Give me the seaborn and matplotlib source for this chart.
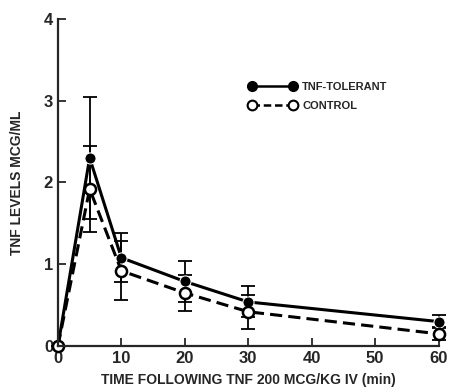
import matplotlib
matplotlib.use("Agg")
import matplotlib.pyplot as plt
import seaborn as sns
import pandas as pd
from matplotlib.lines import Line2D

# -----------------------------
# Data
# -----------------------------
time_min = [0, 5, 10, 20, 30, 60]
tolerant_mean = [0.0, 2.30, 1.08, 0.79, 0.54, 0.30]
tolerant_err = [0.0, 0.75, 0.30, 0.25, 0.19, 0.08]
control_mean = [0.0, 1.92, 0.92, 0.65, 0.42, 0.15]
control_err = [0.0, 0.53, 0.36, 0.22, 0.21, 0.08]

x_ticks = [0, 10, 20, 30, 40, 50, 60]
y_ticks = [0, 1, 2, 3, 4]

df = pd.DataFrame({
    "time": time_min * 2,
    "tnf": tolerant_mean + control_mean,
    "group": ["TNF-TOLERANT"] * len(time_min) + ["CONTROL"] * len(time_min),
})

sns.set_style("ticks")
plt.rcParams["font.family"] = ["Liberation Sans", "DejaVu Sans"]

fig = plt.figure(figsize=(4.49, 3.92), dpi=100)
ax = fig.add_axes([0.129, 0.117, 0.848, 0.835])

# error bars
ax.errorbar(time_min, tolerant_mean, yerr=tolerant_err, fmt="none",
            ecolor="black", elinewidth=1.3, capsize=5, capthick=1.3, clip_on=False)
ax.errorbar(time_min, control_mean, yerr=control_err, fmt="none",
            ecolor="black", elinewidth=1.3, capsize=5, capthick=1.3, clip_on=False)

sns.lineplot(data=df, x="time", y="tnf", hue="group", style="group",
             palette={"TNF-TOLERANT": "black", "CONTROL": "black"},
             dashes={"TNF-TOLERANT": "", "CONTROL": (4, 2)},
             markers={"TNF-TOLERANT": "o", "CONTROL": "o"},
             linewidth=2.2, markersize=8, legend=False, ax=ax)

# open markers for control
ctrl = ax.lines[-1]
ctrl.set_markerfacecolor("white")
ctrl.set_markeredgecolor("black")
ctrl.set_markeredgewidth(1.8)
for line in ax.lines:
    line.set_clip_on(False)

ax.set_xlim(0, 60)
ax.set_ylim(0, 4)
ax.set_xticks(x_ticks)
ax.set_yticks(y_ticks)
ax.tick_params(direction="in", length=6, width=1.3, labelsize=12)
for lbl in ax.get_xticklabels() + ax.get_yticklabels():
    lbl.set_fontweight("bold")

sns.despine(ax=ax)
ax.spines["left"].set_linewidth(1.6)
ax.spines["bottom"].set_linewidth(1.6)

ax.set_xlabel("TIME FOLLOWING TNF 200 MCG/KG IV (min)", fontsize=10,
              fontweight="bold", labelpad=5)
ax.set_ylabel("TNF LEVELS MCG/ML", fontsize=10, fontweight="bold", labelpad=14)

handles = [
    Line2D([], [], color="black", linewidth=1.8, marker="o", markersize=7,
           markerfacecolor="black"),
    Line2D([], [], color="black", linewidth=1.8, linestyle=(0, (3, 1.5)),
           marker="o", markersize=7, markerfacecolor="white", markeredgewidth=1.5),
]
ax.legend(handles, ["TNF-TOLERANT", "CONTROL"], loc="upper left",
          bbox_to_anchor=(0.49, 0.82), frameon=False, handlelength=4.3,
          numpoints=2, handletextpad=0.5,
          prop={"weight": "bold", "size": 8}, labelspacing=0.75, borderaxespad=0)

fig.savefig("out.png", dpi=100)
